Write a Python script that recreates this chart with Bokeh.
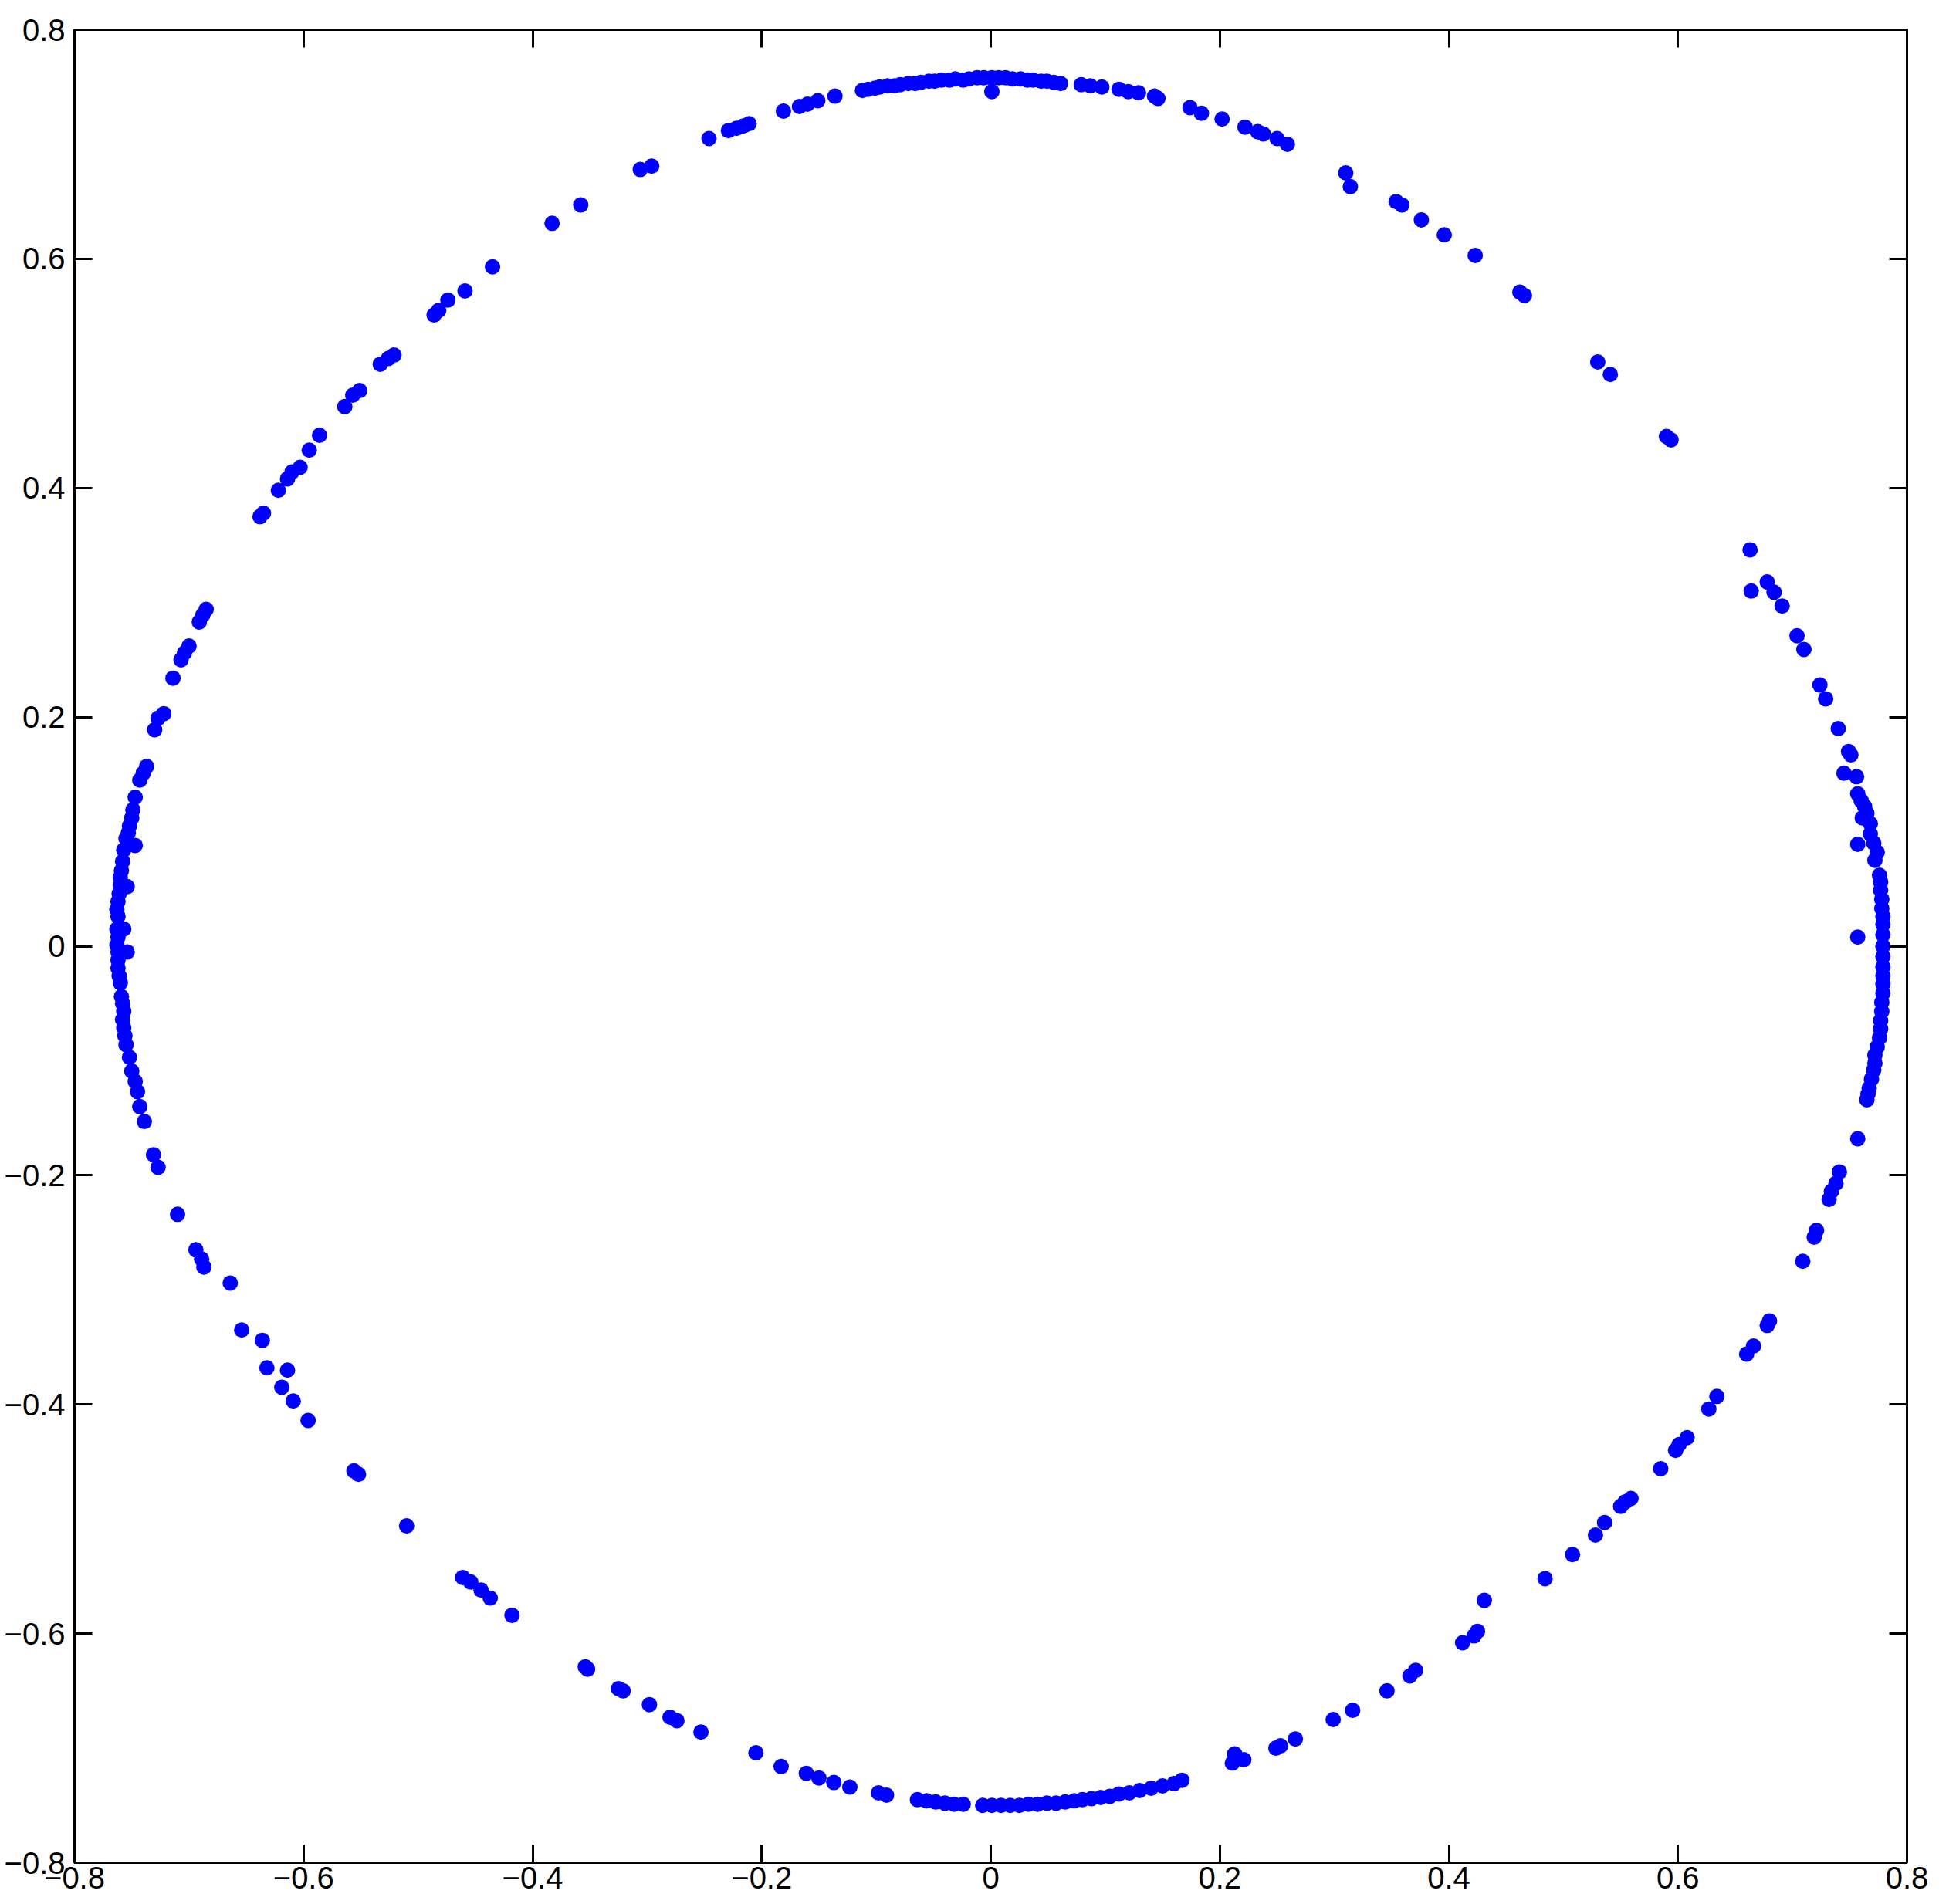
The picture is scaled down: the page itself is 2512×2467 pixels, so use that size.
from bokeh.plotting import figure
from bokeh.models import Range1d, FixedTicker, LinearAxis, ColumnDataSource, CustomLabelingPolicy
from bokeh.embed import file_html
from bokeh.resources import INLINE

tick_values = [-0.8, -0.6, -0.4, -0.2, 0, 0.2, 0.4, 0.6, 0.8]
tick_labels = ["\u22120.8", "\u22120.6", "\u22120.4", "\u22120.2", "0", "0.2", "0.4", "0.6", "0.8"]

# upper arc (upper-left diagonal -> top cluster -> top-right)
upper_x = [-0.296, -0.306, -0.246, -0.229, -0.222, -0.216, -0.211, -0.181, -0.167, -0.160, -0.151, -0.136,
           -0.112, -0.107, -0.101, -0.097, -0.090, -0.084, -0.079, -0.072, -0.066, -0.061, -0.054, -0.049,
           -0.043, -0.036, -0.031, -0.024, -0.019, -0.012, -0.006, 0.001, 0.007, 0.013, 0.019, 0.026,
           0.032, 0.037, 0.044, 0.049, 0.055, 0.061, 0.001,
           0.079, 0.087, 0.097, 0.112, 0.120, 0.129, 0.143, 0.146, 0.174, 0.184, 0.202, 0.222, 0.233,
           0.238, 0.250, 0.259]
upper_y = [0.681, 0.678, 0.705, 0.712, 0.714, 0.716, 0.718, 0.729, 0.733, 0.735, 0.738, 0.742,
           0.747, 0.748, 0.749, 0.750, 0.751, 0.751, 0.752, 0.753, 0.753, 0.754, 0.755, 0.755,
           0.756, 0.756, 0.757, 0.756, 0.757, 0.758, 0.758, 0.758, 0.758, 0.758, 0.757, 0.757,
           0.756, 0.756, 0.755, 0.755, 0.754, 0.753, 0.746,
           0.752, 0.751, 0.750, 0.748, 0.746, 0.745, 0.742, 0.740, 0.732, 0.727, 0.722, 0.715, 0.711,
           0.709, 0.705, 0.700]

# upper-right diagonal
ur_x = [0.310, 0.314, 0.354, 0.359, 0.376, 0.396, 0.423, 0.462, 0.466, 0.530, 0.541, 0.590, 0.594,
        0.663, 0.664, 0.678, 0.684, 0.691, 0.704, 0.710, 0.724, 0.729]
ur_y = [0.675, 0.663, 0.650, 0.647, 0.634, 0.621, 0.603, 0.571, 0.568, 0.510, 0.499, 0.445, 0.442,
        0.346, 0.310, 0.318, 0.309, 0.297, 0.271, 0.259, 0.228, 0.216]

# right cluster
right_x = [0.740, 0.749, 0.751, 0.745, 0.756, 0.757, 0.760, 0.763, 0.761, 0.765, 0.768, 0.768, 0.757,
           0.771, 0.774, 0.772, 0.776, 0.777, 0.777, 0.778, 0.778, 0.779, 0.779, 0.779, 0.779, 0.757,
           0.779, 0.779, 0.779, 0.779, 0.779, 0.778, 0.778, 0.777, 0.777, 0.776, 0.774, 0.772, 0.772,
           0.771, 0.769, 0.767, 0.766, 0.765, 0.757]
right_y = [0.190, 0.170, 0.167, 0.151, 0.148, 0.133, 0.127, 0.122, 0.112, 0.116, 0.107, 0.098, 0.089,
           0.090, 0.082, 0.075, 0.062, 0.056, 0.049, 0.041, 0.033, 0.026, 0.019, 0.010, 0.000, 0.008,
           -0.009, -0.018, -0.026, -0.033, -0.041, -0.049, -0.057, -0.065, -0.072, -0.080, -0.088, -0.095, -0.102,
           -0.108, -0.116, -0.124, -0.129, -0.134, -0.168]

# lower-right diagonal
lr_x = [0.741, 0.738, 0.734, 0.732, 0.721, 0.719, 0.709, 0.680, 0.678, 0.666, 0.660, 0.634, 0.627,
        0.608, 0.601, 0.598, 0.585, 0.559, 0.554, 0.550, 0.536, 0.528, 0.508, 0.484, 0.431, 0.425,
        0.422, 0.412, 0.371, 0.366, 0.346, 0.316, 0.299, 0.266, 0.253, 0.249, 0.221, 0.213, 0.211]
lr_y = [-0.197, -0.207, -0.214, -0.221, -0.248, -0.254, -0.275, -0.327, -0.331, -0.349, -0.356, -0.393, -0.404,
        -0.429, -0.435, -0.440, -0.456, -0.482, -0.485, -0.489, -0.503, -0.514, -0.531, -0.552, -0.571, -0.598,
        -0.602, -0.608, -0.632, -0.637, -0.650, -0.667, -0.675, -0.692, -0.698, -0.700, -0.710, -0.705, -0.713]

# bottom cluster
bottom_x = [0.167, 0.160, 0.150, 0.140, 0.130, 0.121, 0.112, 0.104, 0.096, 0.088, 0.080, 0.073, 0.065,
            0.057, 0.049, 0.041, 0.033, 0.025, 0.017, 0.009, 0.001, -0.007, -0.024, -0.032, -0.040,
            -0.048, -0.056, -0.064, -0.091, -0.098, -0.123, -0.137, -0.150, -0.161, -0.183, -0.205]
bottom_y = [-0.728, -0.731, -0.733, -0.735, -0.737, -0.739, -0.740, -0.742, -0.743, -0.744, -0.745, -0.746, -0.747,
            -0.748, -0.748, -0.749, -0.749, -0.750, -0.750, -0.750, -0.750, -0.750, -0.749, -0.749, -0.748,
            -0.747, -0.746, -0.745, -0.741, -0.739, -0.734, -0.730, -0.726, -0.722, -0.716, -0.704]

# lower-left diagonal
ll_x = [-0.253, -0.274, -0.280, -0.298, -0.321, -0.325, -0.352, -0.354, -0.418, -0.437, -0.445, -0.454,
        -0.461, -0.510, -0.552, -0.556, -0.596, -0.609, -0.619, -0.614, -0.632, -0.636, -0.654, -0.664,
        -0.687, -0.689, -0.694, -0.710, -0.727, -0.731]
ll_y = [-0.686, -0.676, -0.673, -0.662, -0.650, -0.648, -0.631, -0.629, -0.584, -0.569, -0.562, -0.555,
        -0.551, -0.506, -0.461, -0.458, -0.414, -0.397, -0.385, -0.370, -0.368, -0.344, -0.335, -0.294,
        -0.280, -0.273, -0.265, -0.234, -0.193, -0.182]

# left cluster
left_x = [-0.739, -0.743, -0.745, -0.747, -0.750, -0.752, -0.755, -0.756, -0.757, -0.758, -0.757, -0.758,
          -0.759, -0.760, -0.761, -0.762, -0.762, -0.762, -0.754, -0.763, -0.762, -0.757, -0.763, -0.762,
          -0.763, -0.762, -0.761, -0.754, -0.760, -0.760, -0.759, -0.758, -0.757, -0.747, -0.755, -0.753,
          -0.752, -0.750, -0.749, -0.747, -0.743, -0.740, -0.737]
left_y = [-0.153, -0.140, -0.127, -0.118, -0.109, -0.097, -0.086, -0.078, -0.071, -0.064, -0.057, -0.050,
          -0.044, -0.032, -0.026, -0.019, -0.012, -0.005, -0.005, 0.001, 0.008, 0.015, 0.015, 0.026,
          0.032, 0.039, 0.046, 0.052, 0.053, 0.060, 0.066, 0.074, 0.084, 0.088, 0.094, 0.099,
          0.105, 0.112, 0.119, 0.130, 0.145, 0.151, 0.157]

# upper-left diagonal
ul_x = [-0.722, -0.727, -0.730, -0.714, -0.700, -0.704, -0.707, -0.685, -0.688, -0.691, -0.635, -0.638,
        -0.603, -0.610, -0.614, -0.622, -0.595, -0.586, -0.564, -0.557, -0.551, -0.533, -0.526, -0.521,
        -0.486, -0.482, -0.474, -0.459, -0.435, -0.383, -0.358]
ul_y = [0.203, 0.199, 0.189, 0.234, 0.262, 0.256, 0.250, 0.294, 0.289, 0.283, 0.378, 0.375,
        0.418, 0.414, 0.408, 0.398, 0.433, 0.446, 0.471, 0.481, 0.485, 0.508, 0.513, 0.516,
        0.551, 0.555, 0.564, 0.572, 0.593, 0.631, 0.647]

xs = upper_x + ur_x + right_x + lr_x + bottom_x + ll_x + left_x + ul_x
ys = upper_y + ur_y + right_y + lr_y + bottom_y + ll_y + left_y + ul_y
source = ColumnDataSource(data=dict(x=xs, y=ys))

p = figure(width=2508, height=2463,
           x_range=Range1d(-0.8, 0.8), y_range=Range1d(-0.8, 0.8),
           output_backend="svg", toolbar_location=None,
           min_border_left=96, min_border_right=38, min_border_top=38, min_border_bottom=50)
p.grid.visible = False
p.outline_line_color = "black"
p.outline_line_width = 3
p.background_fill_color = "white"
p.border_fill_color = "white"

p.scatter("x", "y", source=source, size=20, fill_color="#0000ff", line_color=None)

overrides = {v: lab for v, lab in zip(tick_values, tick_labels)}

p.add_layout(LinearAxis(), "above")
p.add_layout(LinearAxis(), "right")

for ax in p.axis:
    ax.ticker = FixedTicker(ticks=tick_values)
    ax.major_tick_in = 23
    ax.major_tick_out = 0
    ax.minor_tick_line_color = None
    ax.axis_line_color = "black"
    ax.axis_line_width = 3
    ax.major_tick_line_color = "black"
    ax.major_tick_line_width = 3
    ax.major_label_overrides = overrides
    ax.major_label_text_font = "Liberation Sans"
    ax.major_label_text_font_size = "40px"
    ax.major_label_text_color = "black"

hide_all = CustomLabelingPolicy(code="""
    for (const i of indices)
        indices.unset(i)
    return indices
""")
for ax in p.above + p.right:
    ax.major_label_policy = hide_all
    ax.major_label_text_font_size = "2px"
    ax.major_label_standoff = 0

p.xaxis[0].major_label_standoff = 4
p.yaxis[0].major_label_standoff = 12

open("out.html", "w").write(file_html(p, INLINE))
